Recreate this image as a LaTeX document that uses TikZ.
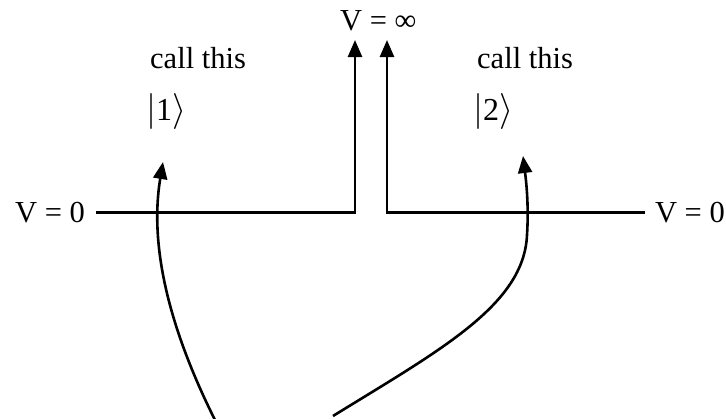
\RequirePackage{fix-cm}
\documentclass[tikz,border=0pt]{standalone}
\usepackage{fontspec}
\setmainfont{Liberation Serif}
\usetikzlibrary{arrows.meta}
\tikzset{
  lbl/.style={inner sep=0pt, font=\fontsize{30.5}{36}\selectfont},
  ketlbl/.style={inner sep=0pt, font=\fontsize{36}{40}\selectfont},
  wire/.style={line width=2.6pt, line join=miter},
  pointer/.style={line width=2.6pt, -{Triangle[length=17pt,width=14pt]}},
}
\newcommand{\myket}[1]{$\bigl|\hbox{\fontsize{32}{36}\selectfont #1}\bigr\rangle$}
\begin{document}
\begin{tikzpicture}[x=1pt,y=-1pt]
\useasboundingbox (0,0) rectangle (726,418);
% labels
\node[lbl, anchor=base west] (vinf) at (340,30) {V = ∞};
\node[lbl, anchor=base west] (call1) at (150,68) {call this};
\node[ketlbl, anchor=base west] (ket1) at (146,120) {\myket{1}};
\node[lbl, anchor=base west] (call2) at (477,68) {call this};
\node[ketlbl, anchor=base west] (ket2) at (473,120) {\myket{2}};
\node[lbl, anchor=base west] (vl) at (15,222) {V = 0};
\node[lbl, anchor=base east] (vr) at (725,222) {V = 0};
% coordinates
\coordinate (lstart) at (96,212.5);
\coordinate (lcorner) at (355,212.5);
\coordinate (ltip) at (355,40);
\coordinate (rstart) at (645,212.5);
\coordinate (rcorner) at (387,212.5);
\coordinate (rtip) at (387,40);
\coordinate (c1base) at (215,420);
\coordinate (c1tip) at (163,162);
\coordinate (c2base) at (333,416);
\coordinate (c2mid) at (527,235);
\coordinate (c2tip) at (523,156);
% potential walls
\draw[wire, -{Triangle[length=17pt,width=14pt]}] (lstart) -- (lcorner) -- (ltip);
\draw[wire, -{Triangle[length=17pt,width=14pt]}] (rstart) -- (rcorner) -- (rtip);
% pointers
\draw[pointer] (c1base) .. controls (165,320) and (150,240) .. (c1tip);
\draw[pointer] (c2base) .. controls (440,350) and (524,305) .. (c2mid) .. controls (529,205) and (526,180) .. (c2tip);
\end{tikzpicture}
\end{document}
